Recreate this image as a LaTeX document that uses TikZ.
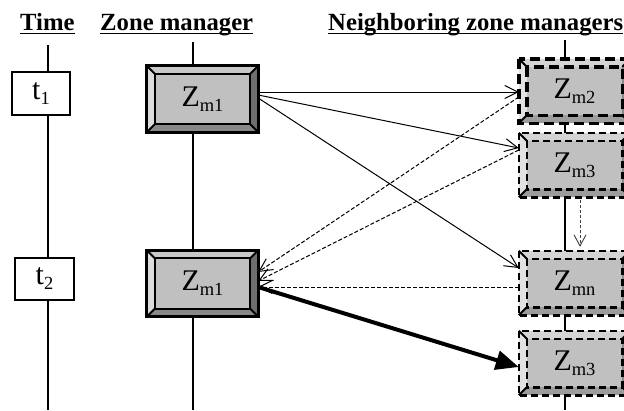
\documentclass[tikz,border=0pt]{standalone}
\usepackage{fontspec}
\setmainfont{Liberation Serif}
\usetikzlibrary{arrows.meta,calc}

\definecolor{facegray}{HTML}{C0C0C0}
\definecolor{mgrtop}{HTML}{C8C8C8}
\definecolor{mgrleft}{HTML}{DCDCDC}
\definecolor{mgrright}{HTML}{6E6E6E}
\definecolor{mgrbottom}{HTML}{888888}
\definecolor{nbrtop}{HTML}{D4D4D4}
\definecolor{nbrleft}{HTML}{E2E2E2}
\definecolor{nbrright}{HTML}{8A8A8A}
\definecolor{nbrbottom}{HTML}{9C9C9C}

\newcommand\boxfont{\fontsize{30}{30}\selectfont}
\newcommand\hdrfont{\fontsize{24.7}{25}\selectfont\bfseries}
\newcommand\lowidx[1]{\raisebox{-5pt}{\fontsize{18.5}{18.5}\selectfont #1}}

% four bevel faces of a raised box: node, depth, top, left, right, bottom colours
\newcommand\bevelfaces[6]{%
  \fill[#3] (#1.north west) -- (#1.north east) -- ([shift={(-#2,#2)}]#1.north east) -- ([shift={(#2,#2)}]#1.north west) -- cycle;
  \fill[#4] (#1.north west) -- ([shift={(#2,#2)}]#1.north west) -- ([shift={(#2,-#2)}]#1.south west) -- (#1.south west) -- cycle;
  \fill[#5] (#1.north east) -- (#1.south east) -- ([shift={(-#2,-#2)}]#1.south east) -- ([shift={(-#2,#2)}]#1.north east) -- cycle;
  \fill[#6] (#1.south west) -- ([shift={(#2,-#2)}]#1.south west) -- ([shift={(-#2,-#2)}]#1.south east) -- (#1.south east) -- cycle;
}
% outlines of a raised box: node, depth, outer style, inner style
\newcommand\beveledges[4]{%
  \draw[#3] (#1.north west) rectangle (#1.south east);
  \draw[#4] ([shift={(#2,#2)}]#1.north west) rectangle ([shift={(-#2,-#2)}]#1.south east);
  \draw[line width=1.8pt] (#1.north west) -- ++(#2,#2) (#1.north east) -- ++(-#2,#2)
        (#1.south west) -- ++(#2,-#2) (#1.south east) -- ++(-#2,-#2);
}

\begin{document}
\begin{tikzpicture}[x=1pt,y=-1pt,
  mgr/.style={minimum width=111pt,minimum height=66pt,inner sep=0pt,fill=facegray,font=\boxfont},
  nbr/.style={minimum width=111pt,minimum height=64pt,inner sep=0pt,fill=facegray,font=\boxfont},
  tbox/.style={draw,line width=2.2pt,fill=white,inner sep=0pt,font=\boxfont},
  hdr/.style={font=\hdrfont,inner sep=0pt,anchor=base west},
  lifeline/.style={line width=2.2pt},
  msg/.style={line width=1pt,-{Straight Barb[length=13pt,width=13pt,line width=1pt]}},
  reply/.style={msg,dash pattern=on 4pt off 2pt},
  bigmsg/.style={line width=4pt,-{Triangle[length=23pt,width=19pt]}},
  handover/.style={line width=0.9pt,black!75,dash pattern=on 3pt off 2pt,
    -{Straight Barb[length=11pt,width=12pt,line width=0.9pt]}},
  solidouter/.style={line width=3pt},
  solidinner/.style={line width=2.2pt},
  dashheavy/.style={line width=3.4pt,dash pattern=on 10pt off 5pt},
  dashlight/.style={line width=2.6pt,dash pattern=on 7pt off 4pt},
]
\clip (0,0) rectangle (624,410);
\fill[white] (0,0) rectangle (624,410);

% column headings
\node[hdr] (hTime) at (20,30) {Time};
\node[hdr] (hMgr) at (100,30) {Zone manager};
\node[hdr] (hNbr) at (328,30) {Neighboring zone managers};
\foreach \h in {hTime,hMgr,hNbr}
  \draw[line width=1.7pt] ($(\h.base west)+(0,3.5)$) -- ($(\h.base east)+(0,3.5)$);

% time column
\node[tbox,minimum width=58pt,minimum height=43pt] (t1) at (41,93.5) {t\lowidx{1}};
\node[tbox,minimum width=59pt,minimum height=42pt] (t2) at (44.5,279) {t\lowidx{2}};
\coordinate (timeTop) at (48,45);
\coordinate (timeEnd) at (48,410);
\draw[lifeline] (timeTop) -- (timeTop |- t1.north)
  (timeTop |- t1.south) -- (timeTop |- t2.north)
  (timeTop |- t2.south) -- (timeEnd);

% zone manager column
\node[mgr] (zmA) at (202.5,99) {Z\lowidx{m1}};
\bevelfaces{zmA}{8}{mgrtop}{mgrleft}{mgrright}{mgrbottom}
\beveledges{zmA}{8}{solidouter}{solidinner}
\node[mgr] (zmB) at (202.5,283.5) {Z\lowidx{m1}};
\bevelfaces{zmB}{8}{mgrtop}{mgrleft}{mgrright}{mgrbottom}
\beveledges{zmB}{8}{solidouter}{solidinner}
\coordinate (mgrTop) at (193,42);
\coordinate (mgrEnd) at (193,410);
\draw[lifeline] (mgrTop) -- (mgrTop |- zmA.north)
  (mgrTop |- zmA.south) -- (mgrTop |- zmB.north)
  (mgrTop |- zmB.south) -- (mgrEnd);

% neighboring zone managers column
\node[nbr] (nb2) at (574.5,91) {Z\lowidx{m2}};
\bevelfaces{nb2}{8}{nbrtop}{nbrleft}{nbrright}{nbrbottom}
\beveledges{nb2}{8}{dashheavy}{dashheavy}
\node[nbr] (nb3) at (574.5,165) {Z\lowidx{m3}};
\bevelfaces{nb3}{8}{nbrtop}{nbrleft}{nbrright}{nbrbottom}
\beveledges{nb3}{8}{dashlight}{dashlight}
\node[nbr] (nbn) at (574.5,283) {Z\lowidx{mn}};
\bevelfaces{nbn}{8}{nbrtop}{nbrleft}{nbrright}{nbrbottom}
\beveledges{nbn}{8}{dashlight}{dashlight}
\node[nbr] (nb3b) at (574.5,363) {Z\lowidx{m3}};
\bevelfaces{nb3b}{8}{nbrtop}{nbrleft}{nbrright}{nbrbottom}
\beveledges{nb3b}{8}{dashlight}{dashlight}
\coordinate (nbrTop) at (565,40);
\coordinate (nbrEnd) at (565,410);
\draw[lifeline] (nbrTop) -- (nbrTop |- nb2.north)
  (nbrTop |- nb2.south) -- (nbrTop |- nb3.north)
  (nbrTop |- nb3.south) -- (nbrTop |- nbn.north)
  (nbrTop |- nbn.south) -- (nbrTop |- nb3b.north)
  (nbrTop |- nb3b.south) -- (nbrEnd);

% messages at t1
\draw[msg] ($(zmA.east)+(0,-7)$) -- ($(nb2.west)+(0,1)$);
\draw[msg] ($(zmA.east)+(0,-4)$) -- ($(nb3.west)+(0,-17)$);
\draw[msg] ($(zmA.east)+(0,-1)$) -- ($(nbn.west)+(0,-15)$);

% replies at t2
\draw[reply] ($(nb2.west)+(0,6)$) -- ($(zmB.east)+(0,-11.5)$);
\draw[reply] ($(nb3.west)+(0,-15)$) -- ($(zmB.east)+(0,-2.5)$);
\draw[reply] ($(nbn.west)+(0,4)$) -- ($(zmB.east)+(0,3.5)$);

% hand-over from Zm3 to Zmn
\draw[handover] ($(nb3.south)+(5.5,3)$) -- ($(nbn.north)+(5.5,-4)$);

% selected neighbour
\draw[bigmsg] ($(zmB.east)+(0,3.5)$) -- ($(nb3b.west)+(0,4)$);
\end{tikzpicture}
\end{document}
